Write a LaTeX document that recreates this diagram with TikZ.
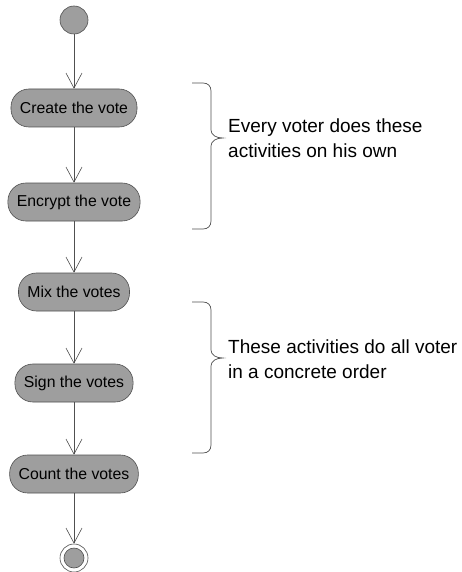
\documentclass[tikz,border=0pt]{standalone}
\usepackage{fontspec}
\setmainfont{Liberation Sans}
\usetikzlibrary{arrows.meta}
\definecolor{actfill}{HTML}{9E9E9E}
\definecolor{lnc}{HTML}{505050}
\begin{document}
\begin{tikzpicture}[x=1pt,y=-1pt,
  act/.style={draw=lnc,fill=actfill,rounded corners=18pt,minimum height=38pt,inner xsep=9pt,inner ysep=0pt,font=\fontsize{15.8}{18}\selectfont,line width=0.6pt},
  flow/.style={draw=lnc,line width=0.6pt,-{Straight Barb[length=15pt,width=16pt,line width=0.6pt]}},
  brace/.style={draw=lnc,line width=0.7pt},
  note/.style={anchor=west,align=left,inner sep=0pt,font=\fontsize{19}{24.5}\selectfont}]
\useasboundingbox (0,0) rectangle (461,572);
\fill[white] (0,0) rectangle (461,572);
\node[circle,draw=lnc,fill=actfill,minimum size=28pt,inner sep=0pt,line width=0.6pt] (start) at (74,20) {};
\node[act] (create) at (74,108) {Create the vote};
\node[act] (encrypt) at (74,202) {Encrypt the vote};
\node[act] (mix) at (74,292) {Mix the votes};
\node[act] (sign) at (74,383) {Sign the votes};
\node[act] (count) at (74,474) {Count the votes};
\node[circle,draw=lnc,line width=0.6pt,minimum size=28pt,inner sep=0pt] (endo) at (74,558) {};
\node[circle,draw=lnc,fill=actfill,line width=0.6pt,minimum size=20pt,inner sep=0pt] (endi) at (74,558) {};
\draw[flow] (start) -- (create);
\draw[flow] (create) -- (encrypt);
\draw[flow] (encrypt) -- (mix);
\draw[flow] (mix) -- (sign);
\draw[flow] (sign) -- (count);
\draw[flow] (count) -- (endo);
% brace 1
\coordinate (b1t) at (192,83);
\coordinate (b1tip) at (223,138);
\coordinate (b1b) at (192,229);
\draw[brace] (b1t) -- (203,83) .. controls (208,83) and (211,86) .. (211,91) -- (211,130)
  .. controls (211,135) and (216,138) .. (b1tip)
  .. controls (216,138) and (211,141) .. (211,146) -- (211,221)
  .. controls (211,226) and (208,229) .. (203,229) -- (b1b);
% brace 2
\coordinate (b2t) at (192,302);
\coordinate (b2tip) at (223,358);
\coordinate (b2b) at (192,453);
\draw[brace] (b2t) -- (203,302) .. controls (208,302) and (211,305) .. (211,310) -- (211,350)
  .. controls (211,355) and (216,358) .. (b2tip)
  .. controls (216,358) and (211,361) .. (211,366) -- (211,445)
  .. controls (211,450) and (208,453) .. (203,453) -- (b2b);
\node[note] (n1) at (228,138) {Every voter does these\\activities on his own};
\node[note] (n2) at (228,359) {These activities do all voter\\in a concrete order};
\end{tikzpicture}
\end{document}
